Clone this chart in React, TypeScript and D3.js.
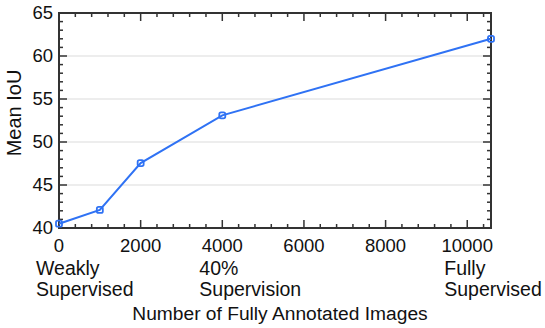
import React, { useEffect, useRef } from "react";
import * as d3 from "d3";

// data
const images = [0, 1000, 2000, 4000, 10582];
const meanIoU = [40.5, 42.1, 47.55, 53.1, 62.0];
const xTicks = [0, 2000, 4000, 6000, 8000, 10000];
const yTicks = [40, 45, 50, 55, 60, 65];
const gridValues = [45, 50, 55, 60];
const caseLabels = [
  { at: 0, lines: ["Weakly", "Supervised"] },
  { at: 4000, lines: ["40%", "Supervision"] },
  { at: 10000, lines: ["Fully", "Supervised"] },
];

const W = 545, H = 328;
const margin = { left: 59, right: 54, top: 13, bottom: 100 };
const FONT = "'Liberation Sans', Arial, sans-serif";
const BLUE = "#2f72f4";
const AXIS = "#333";

export default function App() {
  const ref = useRef<SVGSVGElement>(null);

  useEffect(() => {
    const svg = d3.select(ref.current);
    svg.selectAll("*").remove();
    const iw = W - margin.left - margin.right;
    const ih = H - margin.top - margin.bottom;

    const x = d3.scaleLinear().domain([0, 10582]).range([0, iw]);
    const y = d3.scaleLinear().domain([40, 65]).range([ih, 0]);

    const g = svg.append("g").attr("transform", `translate(${margin.left},${margin.top})`);

    // grid
    g.selectAll(".grid").data(gridValues).join("line")
      .attr("x1", 0).attr("x2", iw)
      .attr("y1", d => y(d)).attr("y2", d => y(d))
      .attr("stroke", "#dcdcdc").attr("stroke-width", 1.2);

    // minor ticks inward on all four sides
    const xMinor = d3.range(0, 10582, 400).filter(v => v % 2000 !== 0);
    const yMinor = d3.range(41, 65, 1).filter(v => v % 5 !== 0);
    const tick = (sel: any) => sel.attr("stroke", AXIS).attr("stroke-width", 1.5);

    tick(g.selectAll(".xminb").data(xMinor).join("line")
      .attr("x1", d => x(d)).attr("x2", d => x(d)).attr("y1", ih).attr("y2", ih - 4));
    tick(g.selectAll(".xmint").data(xMinor).join("line")
      .attr("x1", d => x(d)).attr("x2", d => x(d)).attr("y1", 0).attr("y2", 4));
    tick(g.selectAll(".xmajb").data(xTicks).join("line")
      .attr("x1", d => x(d)).attr("x2", d => x(d)).attr("y1", ih).attr("y2", ih - 8));
    tick(g.selectAll(".xmajt").data(xTicks).join("line")
      .attr("x1", d => x(d)).attr("x2", d => x(d)).attr("y1", 0).attr("y2", 8));
    tick(g.selectAll(".ymin").data(yMinor).join("line")
      .attr("x1", 0).attr("x2", 4).attr("y1", d => y(d)).attr("y2", d => y(d)));
    tick(g.selectAll(".yminr").data(yMinor).join("line")
      .attr("x1", iw).attr("x2", iw - 4).attr("y1", d => y(d)).attr("y2", d => y(d)));
    tick(g.selectAll(".ymaj").data(yTicks).join("line")
      .attr("x1", 0).attr("x2", 8).attr("y1", d => y(d)).attr("y2", d => y(d)));
    tick(g.selectAll(".ymajr").data(yTicks).join("line")
      .attr("x1", iw).attr("x2", iw - 8).attr("y1", d => y(d)).attr("y2", d => y(d)));

    // frame
    g.append("rect").attr("width", iw).attr("height", ih)
      .attr("fill", "none").attr("stroke", AXIS).attr("stroke-width", 2);

    // tick labels
    g.selectAll(".xl").data(xTicks).join("text")
      .attr("x", d => x(d)).attr("y", ih + 24)
      .attr("text-anchor", "middle").attr("font-family", FONT).attr("font-size", 18.5)
      .attr("fill", "#111").text(d => String(d));
    g.selectAll(".yl").data(yTicks).join("text")
      .attr("x", -6).attr("y", d => y(d)).attr("dy", "0.35em")
      .attr("text-anchor", "end").attr("font-family", FONT).attr("font-size", 18.5)
      .attr("fill", "#111").text(d => String(d));

    // case labels under the axis
    caseLabels.forEach(c => {
      const t = g.append("text").attr("font-family", FONT).attr("font-size", 19.5).attr("fill", "#111");
      c.lines.forEach((ln, i) => {
        t.append("tspan").attr("x", x(c.at) - 23).attr("y", ih + 47 + i * 21).text(ln);
      });
    });

    // axis titles
    svg.append("text").attr("x", 280).attr("y", 320)
      .attr("text-anchor", "middle").attr("font-family", FONT).attr("font-size", 19.2)
      .attr("fill", "#111").text("Number of Fully Annotated Images");
    svg.append("text").attr("transform", `translate(21,113) rotate(-90)`)
      .attr("text-anchor", "middle").attr("font-family", FONT).attr("font-size", 20)
      .attr("fill", "#111").text("Mean IoU");

    // line + markers
    const pts = images.map((v, i) => [v, meanIoU[i]] as [number, number]);
    g.append("path").datum(pts)
      .attr("d", d3.line().x(d => x(d[0])).y(d => y(d[1])))
      .attr("fill", "none").attr("stroke", BLUE).attr("stroke-width", 2);
    g.selectAll(".pt").data(pts).join("rect")
      .attr("x", d => x(d[0]) - 3).attr("y", d => y(d[1]) - 3)
      .attr("width", 6).attr("height", 6).attr("rx", 1.8)
      .attr("fill", "none").attr("stroke", BLUE).attr("stroke-width", 1.8);
  }, []);

  return <svg ref={ref} width={W} height={H} style={{ position: "absolute", left: 0, top: 0 }} />;
}
